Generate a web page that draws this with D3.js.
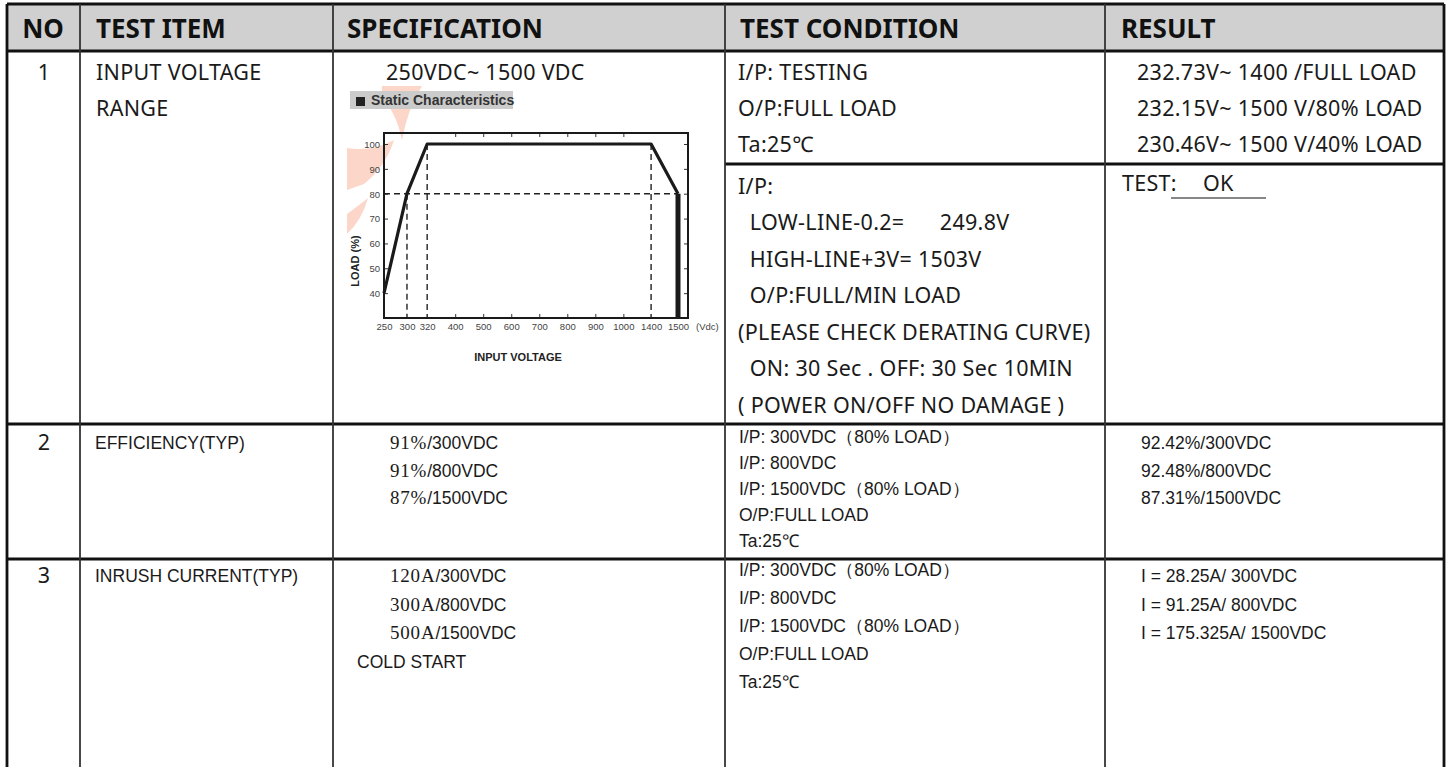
<!DOCTYPE html>
<html><head><meta charset="utf-8">
<script src="https://cdnjs.cloudflare.com/ajax/libs/d3/7.8.5/d3.min.js"></script>
<style>
html,body{margin:0;padding:0;background:#fff;}
svg{display:block;}
text{white-space:pre;}
.hdr{font-family:"Noto Sans","Open Sans",sans-serif;font-weight:700;font-size:26px;fill:#111;}
.r1{font-family:"Noto Sans","Open Sans",sans-serif;font-size:21.5px;letter-spacing:0.3px;fill:#1a1a1a;}
.r2{font-family:"Liberation Sans",Arial,sans-serif;font-size:17.5px;fill:#1a1a1a;}
.serif{font-family:"Liberation Serif","Times New Roman",serif;font-size:19px;letter-spacing:0.8px;}
.ax{font-family:"Liberation Sans",Arial,sans-serif;font-size:9.5px;fill:#444;}
.axb{font-family:"Liberation Sans",Arial,sans-serif;font-weight:700;font-size:11px;fill:#222;}
</style></head>
<body>
<script>
// ---------- data ----------
const columns = ["NO", "TEST ITEM", "SPECIFICATION", "TEST CONDITION", "RESULT"];
const itemNos = ["1", "2", "3"];
const testItems = [["INPUT VOLTAGE", "RANGE"], ["EFFICIENCY(TYP)"], ["INRUSH CURRENT(TYP)"]];
const specRange = "250VDC~ 1500 VDC";
const condRangeA = ["I/P: TESTING", "O/P:FULL LOAD", "Ta:25℃"];
const condRangeB = ["I/P:", "  LOW-LINE-0.2=      249.8V", "  HIGH-LINE+3V= 1503V", "  O/P:FULL/MIN LOAD",
  "(PLEASE CHECK DERATING CURVE)", "  ON: 30 Sec . OFF: 30 Sec 10MIN", "( POWER ON/OFF NO DAMAGE )"];
const resultRange = ["232.73V~ 1400 /FULL LOAD", "232.15V~ 1500 V/80% LOAD", "230.46V~ 1500 V/40% LOAD"];
const resultTest = ["TEST:", "OK"];
const specEff = ["91%/300VDC", "91%/800VDC", "87%/1500VDC"];
const condEff = ["I/P: 300VDC（80% LOAD）", "I/P: 800VDC", "I/P: 1500VDC（80% LOAD）", "O/P:FULL LOAD", "Ta:25℃"];
const resultEff = ["92.42%/300VDC", "92.48%/800VDC", "87.31%/1500VDC"];
const specInrush = ["120A/300VDC", "300A/800VDC", "500A/1500VDC"];
const specInrushNote = "COLD START";
const condInrush = ["I/P: 300VDC（80% LOAD）", "I/P: 800VDC", "I/P: 1500VDC（80% LOAD）", "O/P:FULL LOAD", "Ta:25℃"];
const resultInrush = ["I = 28.25A/ 300VDC", "I = 91.25A/ 800VDC", "I = 175.325A/ 1500VDC"];

// derating curve (input voltage Vdc -> load %)
const curveVolt = [250, 300, 320, 1400, 1500];
const curveLoad = [40, 80, 100, 100, 80];
const cutoffVolt = 1500;
const guideVolt = [300, 320, 1400];
const guideVoltLoad = [80, 100, 100];
const guideLoad = 80;
const xTickValues = [250, 300, 320, 400, 500, 600, 700, 800, 900, 1000, 1400, 1500];
const yTickValues = [40, 50, 60, 70, 80, 90, 100];
const chartTitle = "Static Characteristics";
const xTitle = "INPUT VOLTAGE";
const yTitle = "LOAD (%)";
const xUnit = "(Vdc)";

// ---------- layout ----------
const W = 1449, H = 767;
const colX = [7, 80, 333, 725, 1105, 1444];
const rowY = [4, 51, 424, 559, 800];
const subRowY = 164;

const svg = d3.select("body").append("svg").attr("width", W).attr("height", H);
svg.append("rect").attr("width", W).attr("height", H).attr("fill", "#fff");

// header band
svg.append("rect").attr("x", colX[0]).attr("y", rowY[0]).attr("width", colX[5] - colX[0])
  .attr("height", rowY[1] - rowY[0]).attr("fill", "#d0d0d0");

const hdrX = [43, 96, 347, 740, 1121];
svg.selectAll("text.hdr").data(columns).join("text").attr("class", "hdr")
  .attr("x", (d, i) => hdrX[i]).attr("y", 38)
  .attr("text-anchor", (d, i) => i === 0 ? "middle" : "start").text(d => d);

function block(lines, x, y0, dy, cls, anchor) {
  svg.append("g").selectAll("text").data(lines).join("text").attr("class", cls)
    .attr("x", x).attr("y", (d, i) => y0 + i * dy).attr("text-anchor", anchor || "start").text(d => d);
}
function mixed(lines, x, y0, dy) {
  const t = svg.append("g").selectAll("text").data(lines).join("text").attr("class", "r2")
    .attr("x", x).attr("y", (d, i) => y0 + i * dy);
  t.append("tspan").attr("class", "serif").text(d => d.slice(0, d.indexOf("/")));
  t.append("tspan").text(d => d.slice(d.indexOf("/")));
}

// row numbers
block([itemNos[0]], 44, 79.5, 0, "r1", "middle");
block([itemNos[1]], 44, 450, 0, "r1", "middle");
block([itemNos[2]], 44, 583, 0, "r1", "middle");
// test items
block(testItems[0], 96, 79.5, 36, "r1");
block(testItems[1], 95, 449, 0, "r2");
block(testItems[2], 95, 582, 0, "r2");
// row 1
block([specRange], 386, 79.5, 0, "r1");
block(condRangeA, 738, 79.5, 36, "r1");
block(condRangeB, 738, 193.5, 36.5, "r1");
block(resultRange, 1137, 79.5, 36, "r1");
block([resultTest[0]], 1122, 190.5, 0, "r1");
block([resultTest[1]], 1203, 190.5, 0, "r1");
svg.append("line").attr("x1", 1171).attr("x2", 1266).attr("y1", 198).attr("y2", 198)
  .attr("stroke", "#111").attr("stroke-width", 1.2);
// row 2
mixed(specEff, 390, 449, 27.5);
block(condEff, 739, 443, 26.1, "r2");
block(resultEff, 1141, 449, 27.5, "r2");
// row 3
mixed(specInrush, 390, 582, 28.5);
block([specInrushNote], 357, 582 + 3 * 28.5, 0, "r2");
block(condInrush, 739, 576, 28, "r2");
block(resultInrush, 1141, 582, 28.5, "r2");

// ---------- grid lines ----------
const grid = svg.append("g").attr("stroke", "#111");
grid.selectAll("line.h").data([rowY[0], rowY[1], rowY[2], rowY[3]]).join("line")
  .attr("x1", colX[0]).attr("x2", colX[5]).attr("y1", d => d).attr("y2", d => d).attr("stroke-width", 2.8);
grid.append("line").attr("x1", colX[3]).attr("x2", colX[5]).attr("y1", subRowY).attr("y2", subRowY).attr("stroke-width", 2.8);
grid.selectAll("line.v").data(colX).join("line")
  .attr("x1", d => d).attr("x2", d => d).attr("y1", rowY[0]).attr("y2", H)
  .attr("stroke", (d, i) => (i === 0 || i === 5) ? "#111" : "#333")
  .attr("stroke-width", (d, i) => (i === 0 || i === 5) ? 2.8 : 1.8);

// ---------- chart ----------
const pX0 = 384, pX1 = 688, pY0 = 133, pY1 = 318;
const chart = svg.append("g");

const wm = chart.append("g").attr("fill", "#fcd0c0").attr("opacity", 0.85);
wm.append("path").attr("d", "M382,86 L422,86 Q408,108 402,140 Q396,112 382,98 Z");
wm.append("path").attr("d", "M347,148 Q372,152 394,140 Q386,166 364,184 L347,190 Z");
wm.append("path").attr("d", "M347,214 Q358,206 368,198 Q362,220 347,234 Z");

chart.append("rect").attr("x", 350).attr("y", 91).attr("width", 163).attr("height", 18).attr("fill", "#cbcbcb");
chart.append("rect").attr("x", 356).attr("y", 97).attr("width", 9).attr("height", 9).attr("fill", "#222");
chart.append("text").attr("x", 371).attr("y", 105).attr("font-family", "Liberation Sans, Arial, sans-serif")
  .attr("font-weight", 700).attr("font-size", 14).attr("fill", "#333").text(chartTitle);

const gapWeights = [0.82, 0.72, 1, 1, 1, 1, 1, 1, 1, 0.99, 0.96];
const totalW = d3.sum(gapWeights);
const xRange = [pX0];
gapWeights.forEach(w => xRange.push(xRange[xRange.length - 1] + w * (678 - pX0) / totalW));
const x = d3.scaleLinear().domain(xTickValues).range(xRange);
const y = d3.scaleLinear().domain([30, 100]).range([pY1, 144]);

const ax = chart.append("g").attr("transform", `translate(0,${pY1})`)
  .call(d3.axisBottom(x).tickValues(xTickValues).tickFormat(d3.format("d")).tickSizeInner(-4).tickSizeOuter(0).tickPadding(5));
const ay = chart.append("g").attr("transform", `translate(${pX0},0)`)
  .call(d3.axisLeft(y).tickValues(yTickValues).tickSizeInner(-4).tickSizeOuter(0).tickPadding(4));
const ayR = chart.append("g").attr("transform", `translate(${pX1},0)`)
  .call(d3.axisRight(y).tickValues(yTickValues).tickSizeInner(-4).tickSizeOuter(0).tickFormat(""));
const axT = chart.append("g").attr("transform", `translate(0,${pY0})`)
  .call(d3.axisTop(x).tickValues(xTickValues.filter(v => v >= 400 && v <= 1000)).tickSizeInner(-4).tickSizeOuter(0).tickFormat(""));
[ax, ay, ayR, axT].forEach(g => {
  g.select(".domain").remove();
  g.selectAll(".tick line").attr("stroke", "#333").attr("stroke-width", 1);
  g.selectAll(".tick text").attr("class", "ax").attr("font-family", null).attr("font-size", null).attr("fill", null);
});
ax.selectAll(".tick line").filter(d => d < 400 || d > 1000).remove();
ay.selectAll(".tick text").attr("dy", "0.35em");

const dash = chart.append("g").attr("stroke", "#222").attr("stroke-width", 1.4).attr("stroke-dasharray", "6,4").attr("fill", "none");
dash.append("line").attr("x1", pX0).attr("x2", x(cutoffVolt)).attr("y1", y(guideLoad)).attr("y2", y(guideLoad));
dash.selectAll("line.g").data(guideVolt).join("line")
  .attr("x1", d => x(d)).attr("x2", d => x(d)).attr("y1", (d, i) => y(guideVoltLoad[i])).attr("y2", pY1);

const pts = curveVolt.map((v, i) => [x(v), y(curveLoad[i])]);
chart.append("path").attr("d", d3.line()(pts)).attr("fill", "none").attr("stroke", "#1a1a1a")
  .attr("stroke-width", 3.2).attr("stroke-linejoin", "round");
chart.append("line").attr("x1", x(cutoffVolt)).attr("x2", x(cutoffVolt))
  .attr("y1", y(curveLoad[curveLoad.length - 1])).attr("y2", pY1)
  .attr("stroke", "#1a1a1a").attr("stroke-width", 5);

chart.append("rect").attr("x", pX0).attr("y", pY0).attr("width", pX1 - pX0).attr("height", pY1 - pY0)
  .attr("fill", "none").attr("stroke", "#1a1a1a").attr("stroke-width", 2);

chart.append("text").attr("class", "ax").attr("x", 696).attr("y", pY1 + 12).text(xUnit);
chart.append("text").attr("class", "axb").attr("x", 518).attr("y", 361).attr("text-anchor", "middle").text(xTitle);
chart.append("text").attr("class", "axb").attr("transform", "translate(359,261) rotate(-90)")
  .attr("text-anchor", "middle").text(yTitle);
</script>
</body></html>
